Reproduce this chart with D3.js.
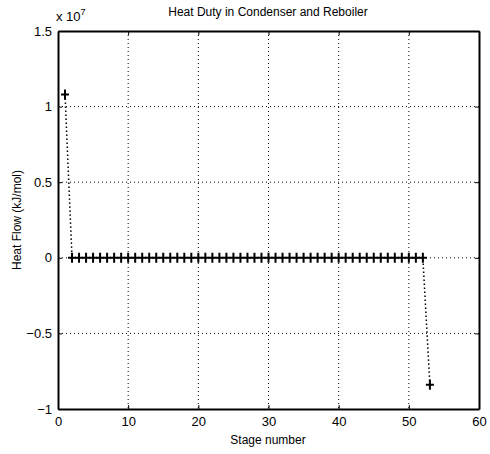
<!DOCTYPE html>
<html>
<head>
<meta charset="utf-8">
<script src="https://cdn.jsdelivr.net/npm/d3@7"></script>
<style>
body { margin: 0; background: #fff; }
text { font-family: "Liberation Sans", Arial, sans-serif; fill: #000; }
</style>
</head>
<body>
<div id="chart"></div>
<script>
// stage numbers and heat flow (units of 1e7 kJ/mol)
const stages = [1, 2, 3, 4, 5, 6, 7, 8, 9, 10, 11, 12, 13, 14, 15, 16, 17, 18, 19, 20,
    21, 22, 23, 24, 25, 26, 27, 28, 29, 30, 31, 32, 33, 34, 35, 36, 37, 38, 39, 40,
    41, 42, 43, 44, 45, 46, 47, 48, 49, 50, 51, 52, 53];
const heatFlow = [1.08, 0, 0, 0, 0, 0, 0, 0, 0, 0, 0, 0, 0, 0, 0, 0, 0, 0, 0, 0,
    0, 0, 0, 0, 0, 0, 0, 0, 0, 0, 0, 0, 0, 0, 0, 0, 0, 0, 0, 0,
    0, 0, 0, 0, 0, 0, 0, 0, 0, 0, 0, 0, -0.84];
const xTicks = [0, 10, 20, 30, 40, 50, 60];
const yTicks = [-1, -0.5, 0, 0.5, 1, 1.5];

const svgWidth = 490, svgHeight = 454,
    margin = { top: 31, right: 11, bottom: 45, left: 58 },
    width = svgWidth - margin.left - margin.right,
    height = svgHeight - margin.top - margin.bottom;

let svgRoot = d3.select("#chart").append("svg")
    .attr("width", svgWidth)
    .attr("height", svgHeight);
let svg = svgRoot.append("g")
    .attr("transform", "translate(" + margin.left + "," + margin.top + ")");

let xScale = d3.scaleLinear().domain([0, 60]).range([0, width]);
let yScale = d3.scaleLinear().domain([-1, 1.5]).range([height, 0]);

// grid
svg.append("g").selectAll("line")
    .data(xTicks.slice(1, -1))
    .join("line")
    .attr("x1", d => xScale(d)).attr("x2", d => xScale(d))
    .attr("y1", 0).attr("y2", height)
    .attr("stroke", "#000").attr("stroke-width", 1)
    .attr("stroke-dasharray", "1,3");
svg.append("g").selectAll("line")
    .data(yTicks.slice(1, -1))
    .join("line")
    .attr("y1", d => yScale(d)).attr("y2", d => yScale(d))
    .attr("x1", 0).attr("x2", width)
    .attr("stroke", "#000").attr("stroke-width", 1)
    .attr("stroke-dasharray", "1,3");

// axes (ticks pointing inward)
let xAxis = svg.append("g")
    .attr("transform", `translate(0, ${height})`)
    .call(d3.axisBottom(xScale).tickValues(xTicks).tickSizeInner(-4).tickSizeOuter(0).tickPadding(8));
let yAxis = svg.append("g")
    .call(d3.axisLeft(yScale).tickValues(yTicks).tickSizeInner(-4).tickSizeOuter(0).tickPadding(6)
        .tickFormat(d => d3.format("")(d)));
let xAxisTop = svg.append("g")
    .call(d3.axisTop(xScale).tickValues(xTicks).tickSizeInner(-4).tickSizeOuter(0).tickFormat(""));
let yAxisRight = svg.append("g")
    .attr("transform", `translate(${width}, 0)`)
    .call(d3.axisRight(yScale).tickValues(yTicks).tickSizeInner(-4).tickSizeOuter(0).tickFormat(""));
[xAxis, yAxis, xAxisTop, yAxisRight].forEach(a => {
    a.select(".domain").attr("stroke", "#000").attr("stroke-width", 2);
    a.selectAll(".tick text").attr("font-size", 13);
});

// exponent label
svgRoot.append("text")
    .attr("x", 56).attr("y", 21)
    .attr("font-size", 13)
    .text("x 10")
    .append("tspan").attr("dy", -6).attr("font-size", 9).text("7");

// data line
let line = d3.line()
    .x((d, i) => xScale(stages[i]))
    .y(d => yScale(d));
svg.append("path")
    .datum(heatFlow)
    .attr("d", line)
    .attr("fill", "none")
    .attr("stroke", "#000")
    .attr("stroke-width", 1.5)
    .attr("stroke-dasharray", "1.5,2.5");

// + markers
svg.append("g").selectAll("path")
    .data(heatFlow)
    .join("path")
    .attr("d", (d, i) => {
        let x = xScale(stages[i]), y = yScale(d);
        return `M${x - 4},${y}H${x + 4}M${x},${y - 5}V${y + 5}`;
    })
    .attr("stroke", "#000")
    .attr("stroke-width", 2);

// labels
svgRoot.append("text")
    .attr("x", 268).attr("y", 16)
    .attr("text-anchor", "middle")
    .attr("font-size", 12)
    .text("Heat Duty in Condenser and Reboiler");
svgRoot.append("text")
    .attr("x", 268).attr("y", 444)
    .attr("text-anchor", "middle")
    .attr("font-size", 12)
    .text("Stage number");
svgRoot.append("text")
    .attr("transform", `translate(21, 220) rotate(-90)`)
    .attr("text-anchor", "middle")
    .attr("font-size", 12)
    .text("Heat Flow (kJ/mol)");
</script>
</body>
</html>
